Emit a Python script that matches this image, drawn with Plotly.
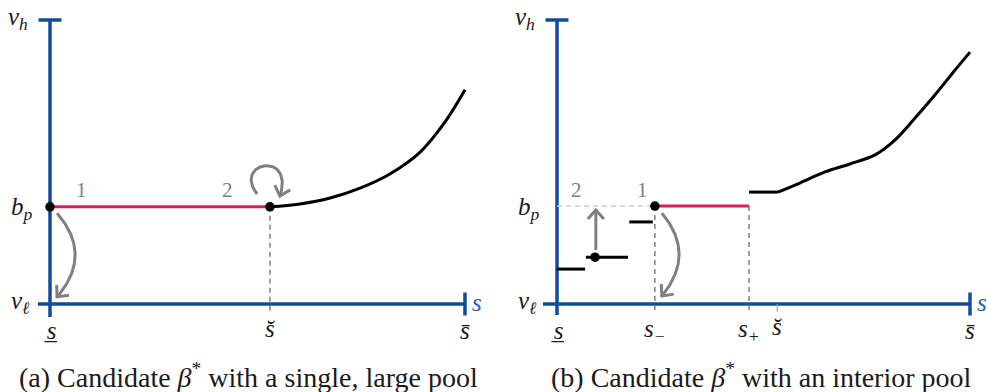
import numpy as np
import plotly.graph_objects as go

# ---------------- data (schematic units: s in [0,1], v in [0,1]) ----------------
# Panel (a): single, large pool
a_pool_s = [0.0, 0.530]
a_pool_v = [0.342, 0.342]
a_curve_s = [0.530, 0.602, 0.675, 0.747, 0.819, 0.892, 0.952, 1.0]
a_curve_v = [0.342, 0.352, 0.373, 0.408, 0.458, 0.535, 0.641, 0.754]
a_dots_s = [0.0, 0.530]
a_dots_v = [0.342, 0.342]
a_s_check = 0.530

# Panel (b): interior pool
b_step_s0 = [0.0, 0.070, 0.175]
b_step_s1 = [0.068, 0.172, 0.232]
b_step_v = [0.123, 0.165, 0.289]
b_pool_s = [0.237, 0.465]
b_pool_v = [0.345, 0.345]
b_flat_s = [0.465, 0.535]
b_flat_v = [0.394, 0.394]
b_curve_s = [0.535, 0.588, 0.649, 0.709, 0.770, 0.818, 0.867, 0.915, 0.964, 1.0]
b_curve_v = [0.394, 0.426, 0.465, 0.493, 0.525, 0.577, 0.655, 0.736, 0.824, 0.887]
b_dots_s = [0.092, 0.237]
b_dots_v = [0.165, 0.345]
b_s_minus, b_s_plus, b_s_check = 0.237, 0.465, 0.533

# arrow control points (data units)
a_arrow1_s, a_arrow1_v = [0.017, 0.104, 0.017], [0.320, 0.173, 0.025]
a_loop_s, a_loop_v = [0.499, 0.439, 0.590, 0.554], [0.387, 0.500, 0.542, 0.380]
b_arrow1_s, b_arrow1_v = [0.254, 0.337, 0.254], [0.320, 0.176, 0.028]
b_up_s, b_up_v = [0.094, 0.094], [0.190, 0.331]

# ---------------- geometry / style ----------------
W, H = 987, 392
PAN = {
    "a": dict(ox=50, oy=304, kx=415, ky=284, dom=(0.0, 0.5), xa="x", ya="y"),
    "b": dict(ox=557, oy=304, kx=413, ky=284, dom=(0.5, 1.0), xa="x2", ya="y2"),
}
BLUE = "#0f4c9c"
RED = "#d81f5b"
GRAY = "#808080"
BLACK = "#000000"
MATH_FONT = "Liberation Serif"
CAP_FONT = "Liberation Serif"

fig = go.Figure()


def line(p, xs, ys, color, width, dash="solid", shape="linear"):
    P = PAN[p]
    fig.add_trace(go.Scatter(x=list(xs), y=list(ys), mode="lines", xaxis=P["xa"], yaxis=P["ya"],
                             line=dict(color=color, width=width, dash=dash, shape=shape),
                             hoverinfo="skip", showlegend=False))


def dots(p, xs, ys):
    P = PAN[p]
    fig.add_trace(go.Scatter(x=xs, y=ys, mode="markers", xaxis=P["xa"], yaxis=P["ya"],
                             marker=dict(color=BLACK, size=9.5), hoverinfo="skip", showlegend=False))


def to_px(p, s, v):
    P = PAN[p]
    return P["ox"] + P["kx"] * np.asarray(s), P["oy"] - P["ky"] * np.asarray(v)


def to_data(p, x, y):
    P = PAN[p]
    return (np.asarray(x) - P["ox"]) / P["kx"], (P["oy"] - np.asarray(y)) / P["ky"]


def bezier(ctrl, n=60):
    ctrl = np.asarray(ctrl, dtype=float)
    pts = []
    for tt in np.linspace(0, 1, n):
        c = ctrl.copy()
        while len(c) > 1:
            c = (1 - tt) * c[:-1] + tt * c[1:]
        pts.append(c[0])
    return np.array(pts)


def arrow(p, cs, cv, color=GRAY, width=3, L=12, ang=42):
    x, y = to_px(p, cs, cv)
    pts = bezier(np.column_stack([x, y])) if len(cs) > 2 else np.column_stack([x, y])
    s, v = to_data(p, pts[:, 0], pts[:, 1])
    line(p, s, v, color, width)
    tip = pts[-1]
    d = pts[-1] - pts[-2]
    d = d / np.hypot(*d)
    arms = []
    for sgn in (1, -1):
        a = np.radians(ang) * sgn
        r = np.array([d[0] * np.cos(a) - d[1] * np.sin(a), d[0] * np.sin(a) + d[1] * np.cos(a)])
        arms.append(tip - L * r)
    ch = np.array([arms[0], tip, arms[1]])
    s, v = to_data(p, ch[:, 0], ch[:, 1])
    line(p, s, v, color, width)


def axes(p, xstart_px, ybot_px):
    P = PAN[p]
    tick = 11.5
    xs0, _ = to_data(p, xstart_px, 0)
    _, vb = to_data(p, 0, ybot_px)
    th = tick / P["kx"]
    tv = tick / P["ky"]
    line(p, [0, 0], [1, vb], BLUE, 3.5)
    line(p, [-th, th], [1, 1], BLUE, 3.5)
    line(p, [xs0, 1], [0, 0], BLUE, 3.5)
    line(p, [1, 1], [tv, -tv], BLUE, 3.5)


def txt(p, s, v, text, size=25, color="#1a1a1a", font=MATH_FONT, xanchor="center"):
    P = PAN[p]
    fig.add_annotation(x=s, y=v, xref=P["xa"], yref=P["ya"], text=text, showarrow=False,
                       font=dict(family=font, size=size, color=color), xanchor=xanchor, yanchor="middle")


# ---------------- panel (a) ----------------
axes("a", 38, 317)
line("a", [a_s_check, a_s_check], [a_pool_v[0], -0.032], GRAY, 1.5, dash="5px,4px")
line("a", a_pool_s, a_pool_v, RED, 3)
line("a", a_curve_s, a_curve_v, BLACK, 3, shape="spline")
arrow("a", a_arrow1_s, a_arrow1_v)
arrow("a", a_loop_s, a_loop_v)
dots("a", a_dots_s, a_dots_v)

# ---------------- panel (b) ----------------
axes("b", 543, 315)
line("b", [0, b_s_minus], [b_pool_v[0], b_pool_v[0]], "#c3d0e6", 1.5, dash="5px,4px")
for xv in (b_s_minus, b_s_plus):
    line("b", [xv, xv], [b_pool_v[0], -0.032], GRAY, 1.5, dash="5px,4px")
line("b", [b_s_check, b_s_check], [0, -0.028], "#999999", 1)
for s0, s1, v in zip(b_step_s0, b_step_s1, b_step_v):
    line("b", [s0, s1], [v, v], BLACK, 3)
line("b", b_pool_s, b_pool_v, RED, 3)
line("b", b_flat_s, b_flat_v, BLACK, 3)
line("b", b_curve_s, b_curve_v, BLACK, 3, shape="spline")
arrow("b", b_arrow1_s, b_arrow1_v)
arrow("b", b_up_s, b_up_v)
dots("b", b_dots_s, b_dots_v)

# ---------------- labels ----------------
for p in ("a", "b"):
    txt(p, -0.077, 1.007, "<i>v<sub>h</sub></i>")
    txt(p, -0.067, 0.338, "<i>b<sub>p</sub></i>")
    txt(p, -0.072, 0.007, "<i>v<sub>ℓ</sub></i>")
    txt(p, 0.0, -0.092, "<i>s\u0332</i>")
    txt(p, 1.0, -0.092, "<i>s\u0304</i>")
    txt(p, 1.030, 0.007, "<i>s</i>", color="#2a62b8")

txt("a", a_s_check, -0.085, "<i>s\u0306</i>")
txt("a", 0.075, 0.401, "1", color=GRAY, size=21)
txt("a", 0.427, 0.401, "2", color=GRAY, size=21)

txt("b", b_s_check, -0.078, "<i>s\u0306</i>")
txt("b", b_s_minus, -0.092, "<i>s<sub>−</sub></i>")
txt("b", b_s_plus, -0.092, "<i>s<sub>+</sub></i>")
txt("b", 0.046, 0.401, "2", color=GRAY, size=21)
txt("b", 0.206, 0.401, "1", color=GRAY, size=21)

# captions
for xc, t in ((248 / W, "(a) Candidate <i>β</i><sup>*</sup> with a single, large pool"),
              (761 / W, "(b) Candidate <i>β</i><sup>*</sup> with an interior pool")):
    fig.add_annotation(x=xc, y=1 - 375 / H, xref="paper", yref="paper", text=t, showarrow=False,
                       font=dict(family=CAP_FONT, size=28, color="#1a1a1a"), xanchor="center", yanchor="middle")


def rng(o, k, d0, d1):
    return [(d0 - o) / k, (d1 - o) / k]


layout_axes = {}
for key, p in (("", "a"), ("2", "b")):
    P = PAN[p]
    layout_axes["xaxis" + key] = dict(domain=list(P["dom"]), range=rng(P["ox"], P["kx"], P["dom"][0] * W, P["dom"][1] * W),
                                      visible=False, fixedrange=True, anchor="y" + key)
    yr = [-(H - P["oy"]) / P["ky"], P["oy"] / P["ky"]]
    layout_axes["yaxis" + key] = dict(domain=[0, 1], range=yr, visible=False, fixedrange=True, anchor="x" + key)

fig.update_layout(width=W, height=H, margin=dict(l=0, r=0, t=0, b=0), autosize=False,
                  plot_bgcolor="white", paper_bgcolor="white", showlegend=False, **layout_axes)

fig.write_html("out.html", config={"displayModeBar": False},
               post_script="document.body.style.margin='0';document.body.style.overflow='hidden';")
